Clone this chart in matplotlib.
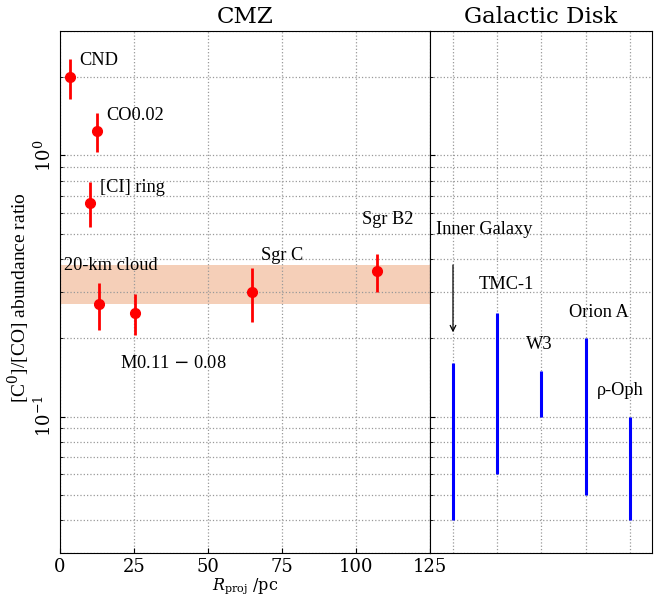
import numpy as np
import matplotlib
matplotlib.use("Agg")
import matplotlib.pyplot as plt

plt.rcParams['font.family'] = 'DejaVu Serif'
plt.rcParams['mathtext.fontset'] = 'dejavuserif'

# CMZ sources
cmz_names = ["CND", "CO0.02", "[CI] ring", "20-km cloud", "M0.11 $-$ 0.08", "Sgr C", "Sgr B2"]
cmz_r = [3.4, 12.4, 10.2, 13.3, 25.3, 64.9, 107.1]
cmz_ratio = [2.0, 1.24, 0.66, 0.27, 0.25, 0.30, 0.36]
cmz_err = [0.35, 0.21, 0.13, 0.055, 0.045, 0.07, 0.06]
band = (0.27, 0.38)

# Galactic disk sources (ranges)
disk_names = ["Inner Galaxy", "TMC-1", "W3", "Orion A", "ρ-Oph"]
disk_lo = [0.04, 0.06, 0.10, 0.05, 0.04]
disk_hi = [0.16, 0.25, 0.15, 0.20, 0.10]

fig = plt.figure(figsize=(6.55, 5.97), dpi=100)
ax1 = fig.add_axes([0.0916, 0.0737, 0.5649, 0.8745])
ax2 = fig.add_axes([0.6565, 0.0737, 0.3389, 0.8745], sharey=ax1)

grid_kw = dict(color="0.6", linestyle=":", linewidth=0.9)

# left panel
ax1.axhspan(band[0], band[1], color="#f5cfb8", zorder=0, lw=0)
ax1.errorbar(cmz_r, cmz_ratio, yerr=cmz_err, fmt="o", color="red",
             ms=7, elinewidth=2, capsize=0, zorder=3)
ax1.set_yscale("log")
ax1.set_ylim(0.03, 3)
ax1.set_xlim(0, 125)
ax1.set_xticks([0, 25, 50, 75, 100, 125])
ax1.grid(True, which="both", **grid_kw)
ax1.tick_params(axis="both", which="both", direction="in", labelsize=13)
ax1.tick_params(axis="y", labelrotation=90)
for lbl in ax1.get_yticklabels():
    lbl.set_va("center")
ax1.set_title("CMZ", fontsize=16.5, pad=6)
ax1.set_xlabel(r"$R_{\rm proj}$ /pc", fontsize=11.5, labelpad=0)
ax1.set_ylabel(r"[C$^0$]/[CO] abundance ratio", fontsize=14,
               family="Liberation Serif")
ax1.yaxis.set_label_coords(-0.076, 0.49)

txt = dict(fontsize=13.2, family="Liberation Serif")
cmz_lab_x = [6.4, 15.5, 13.5, 1.4, 20.3, 68, 102]
cmz_lab_y = [2.31, 1.42, 0.755, 0.38, 0.159, 0.415, 0.57]
for name, tx, ty in zip(cmz_names, cmz_lab_x, cmz_lab_y):
    ax1.text(tx, ty, name, ha="left", va="center", **txt)

# right panel
xpos = np.arange(1, len(disk_names) + 1)
ax2.vlines(xpos, disk_lo, disk_hi, color="blue", lw=2.2, zorder=3)
ax2.annotate("", xy=(1, 0.205), xytext=(1, 0.39),
             arrowprops=dict(arrowstyle="->", color="black", lw=0.9))
ax2.set_xlim(0.48, 5.5)
ax2.set_xticks(xpos)
ax2.tick_params(axis="x", length=0, labelbottom=False)
ax2.tick_params(axis="y", which="both", direction="in", labelleft=False)
ax2.grid(True, which="both", **grid_kw)
ax2.set_title("Galactic Disk", fontsize=16.5, pad=6)

disk_lab_x = [0.62, 2.2, 2.95, 4.3, 4.78]
disk_lab_y = [0.52, 0.32, 0.188, 0.25, 0.126]
disk_ha = ["left", "center", "center", "center", "center"]
for name, tx, ty, ha in zip(disk_names, disk_lab_x, disk_lab_y, disk_ha):
    ax2.text(tx, ty, name, ha=ha, va="center", **txt)

fig.savefig("out.png", dpi=100)
